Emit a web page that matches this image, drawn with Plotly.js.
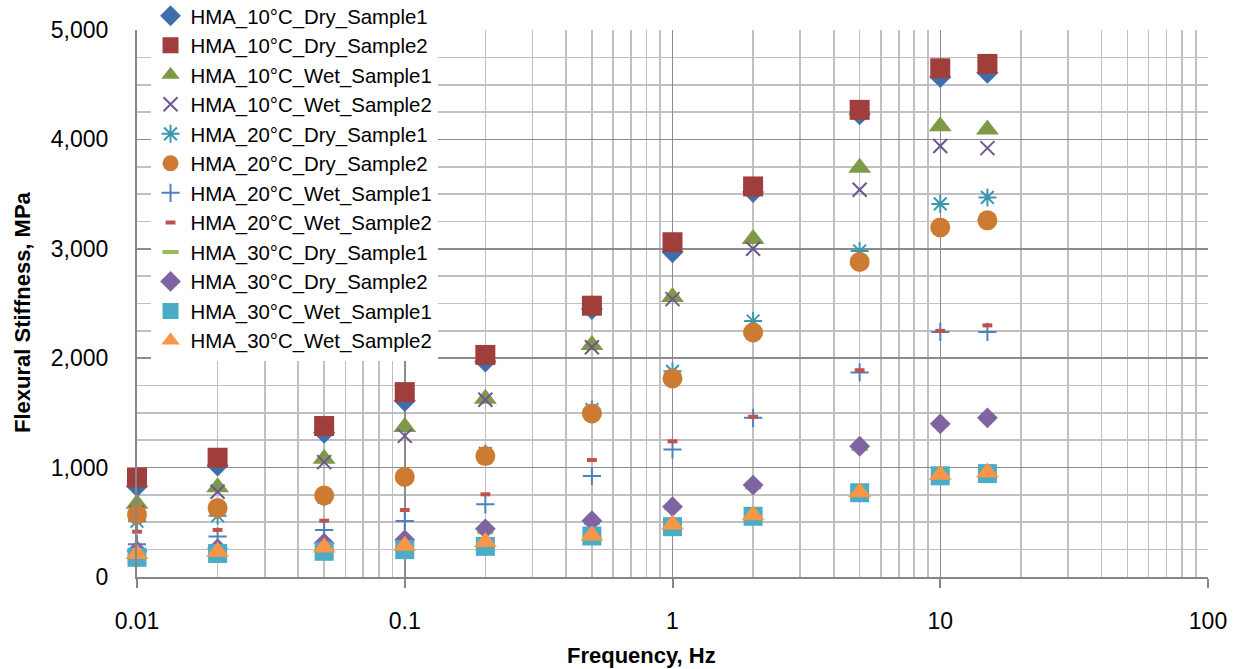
<!DOCTYPE html>
<html>
<head>
<meta charset="utf-8">
<script src="https://cdn.plot.ly/plotly-3.0.1.min.js"></script>
<style>html,body{margin:0;padding:0;background:#fff;}#chart{width:1239px;height:669px;}</style>
</head>
<body>
<div id="chart"></div>
<script>
// Frequencies (Hz)
var freq = [0.01, 0.02, 0.05, 0.1, 0.2, 0.5, 1, 2, 5, 10, 15];

// Flexural stiffness (MPa)
var dry10_s1 = [830, 1020, 1320, 1610, 1970, 2450, 2970, 3520, 4230, 4570, 4610];
var dry10_s2 = [910, 1090, 1380, 1690, 2030, 2480, 3060, 3570, 4270, 4650, 4690];
var wet10_s1 = [670, 820, 1080, 1370, 1630, 2120, 2560, 3090, 3740, 4120, 4090];
var wet10_s2 = [590, 780, 1050, 1290, 1620, 2100, 2540, 3000, 3540, 3940, 3920];
var dry20_s1 = [510, 560, 730, 920, 1130, 1530, 1880, 2340, 2980, 3410, 3470];
var dry20_s2 = [570, 630, 745, 915, 1105, 1495, 1815, 2235, 2880, 3195, 3260];
var wet20_s1 = [300, 370, 430, 512, 664, 923, 1165, 1455, 1870, 2240, 2240];
var wet20_s2 = [414, 430, 515, 612, 756, 1069, 1240, 1465, 1890, 2250, 2300];
var dry30_s1 = [220, 245, 290, 320, 410, 495, 630, 820, 1170, 1390, 1450];
var dry30_s2 = [240, 260, 310, 340, 440, 515, 643, 840, 1195, 1400, 1455];
var wet30_s1 = [180, 215, 235, 250, 280, 375, 460, 555, 770, 925, 945];
var wet30_s2 = [210, 230, 270, 285, 320, 380, 480, 565, 775, 935, 955];

var seriesNames = [
  'HMA_10°C_Dry_Sample1', 'HMA_10°C_Dry_Sample2', 'HMA_10°C_Wet_Sample1', 'HMA_10°C_Wet_Sample2',
  'HMA_20°C_Dry_Sample1', 'HMA_20°C_Dry_Sample2', 'HMA_20°C_Wet_Sample1', 'HMA_20°C_Wet_Sample2',
  'HMA_30°C_Dry_Sample1', 'HMA_30°C_Dry_Sample2', 'HMA_30°C_Wet_Sample1', 'HMA_30°C_Wet_Sample2'
];

var xTickVals = [0.01, 0.1, 1, 10, 100];
var xTickText = ['0.01', '0.1', '1', '10', '100'];

var xTitle = 'Frequency, Hz';
var yTitle = 'Flexural Stiffness, MPa';

var seriesData = [dry10_s1, dry10_s2, wet10_s1, wet10_s2, dry20_s1, dry20_s2,
                  wet20_s1, wet20_s2, dry30_s1, dry30_s2, wet30_s1, wet30_s2];

var styles = [
  {symbol: 'diamond', size: 17, color: '#3F6EAA'},
  {symbol: 'square', size: 20, color: '#A03E3C'},
  {symbol: 'triangle-up', size: 20, color: '#7E9A48'},
  {symbol: 'x-thin-open', size: 14, color: '#6F5594', lw: 2},
  {symbol: 'asterisk-open', size: 15, color: '#3A99B0', lw: 2},
  {symbol: 'circle', size: 20, color: '#CD7A33'},
  {symbol: 'cross-thin-open', size: 13, color: '#4F81BD', lw: 2},
  {symbol: 'line-ew-open', size: 7, color: '#C0504D', lw: 4},
  {symbol: 'line-ew-open', size: 11.5, color: '#9BBB59', lw: 4},
  {symbol: 'diamond', size: 16, color: '#8064A2'},
  {symbol: 'square', size: 19, color: '#4BACC6'},
  {symbol: 'triangle-up', size: 20, color: '#F79646'}
];

var traces = seriesData.map(function (vals, i) {
  var s = styles[i];
  var marker = {symbol: s.symbol, size: s.size, color: s.color};
  if (s.lw) { marker.line = {width: s.lw, color: s.color}; }
  else { marker.line = {width: 0}; }
  return {x: freq, y: vals, name: seriesNames[i], type: 'scatter', mode: 'markers',
          marker: marker, cliponaxis: false};
});

// minor gridline positions on the log axis
var minorVals = [];
for (var e = -2; e < 2; e++) {
  for (var d = 2; d <= 9; d++) minorVals.push(d * Math.pow(10, e));
}

var fontFam = 'Liberation Sans, Arial, sans-serif';
var layout = {
  width: 1239, height: 669,
  margin: {l: 137, r: 31, t: 30, b: 92, autoexpand: false},
  paper_bgcolor: '#ffffff', plot_bgcolor: '#ffffff',
  font: {family: fontFam, color: '#000000', size: 23},
  showlegend: true,
  legend: {xref: 'container', yref: 'paper', x: 0.1215, y: 1.0622, xanchor: 'left', yanchor: 'top',
           maxheight: 660, bgcolor: '#ffffff', borderwidth: 0,
           font: {size: 20.4, color: '#000000'}, itemclick: false},
  xaxis: {
    type: 'log', range: [-2, 2.0], tickmode: 'array', tickvals: xTickVals, ticktext: xTickText,
    ticks: 'outside', ticklen: 9, tickwidth: 2, tickcolor: '#868686',
    showline: true, linecolor: '#868686', linewidth: 2,
    showgrid: true, gridcolor: '#8C8C8C', gridwidth: 1.5,
    minor: {tickmode: 'array', tickvals: minorVals, showgrid: true, gridcolor: '#C0C0C0', gridwidth: 1.6, ticks: ''},
    tickfont: {size: 23, color: '#000000'}, ticklabelstandoff: 13, zeroline: false
  },
  yaxis: {
    range: [0, 5000], tickmode: 'linear', tick0: 0, dtick: 1000, tickformat: ',d',
    ticks: '', showline: true, linecolor: '#868686', linewidth: 2,
    showgrid: true, gridcolor: '#8C8C8C', gridwidth: 1.5,
    minor: {dtick: 250, showgrid: true, gridcolor: '#C0C0C0', gridwidth: 1.6, ticks: ''},
    tickfont: {size: 23, color: '#000000'}, ticklabelstandoff: 22, zeroline: false
  },
  annotations: [
    {text: '<b>' + xTitle + '</b>', xref: 'paper', yref: 'paper', x: 0.471, y: -0.1426,
     xanchor: 'center', yanchor: 'middle', showarrow: false, font: {size: 22, family: fontFam}},
    {text: '<b>' + yTitle + '</b>', xref: 'paper', yref: 'paper', x: -0.1064, y: 0.4845,
     xanchor: 'center', yanchor: 'middle', textangle: -90, showarrow: false, font: {size: 22, family: fontFam}}
  ]
};

Plotly.newPlot('chart', traces, layout, {displayModeBar: false, staticPlot: true});
</script>
</body>
</html>
